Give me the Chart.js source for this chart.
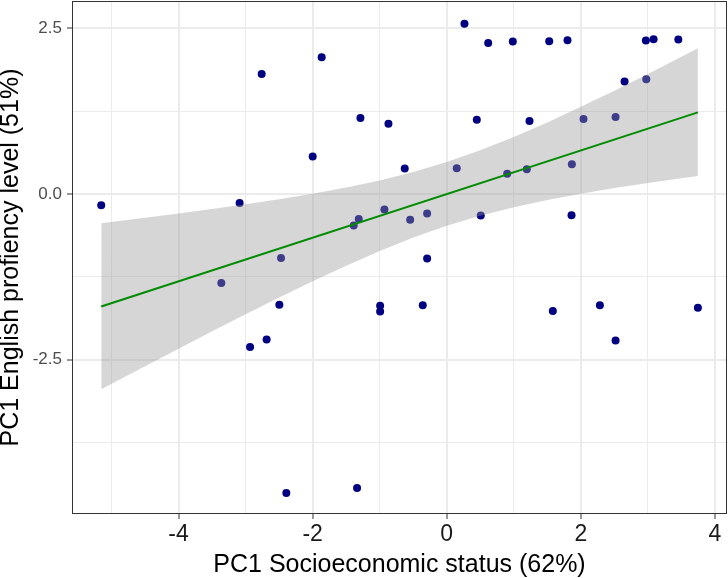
<!DOCTYPE html>
<html>
<head>
<meta charset="utf-8">
<script src="https://cdn.jsdelivr.net/npm/chart.js@4/dist/chart.umd.min.js"></script>
<style>
  html, body { margin: 0; padding: 0; background: #fff; }
  #chart { display: block; }
</style>
</head>
<body>
<canvas id="chart" width="728" height="578"></canvas>
<script>
// PC1 scores per sample
const sesScores = [-5.154, -3.09, -2.761, -1.866, -1.288, -0.870, -2.0, -0.930, -1.313, -1.388, -2.472,
  0.264, 0.618, 0.985, 1.528, 1.801, 2.970, 3.085, 3.454, 2.652, 2.976,
  0.448, 1.234, 2.040, 2.518, -0.627, 0.149, 0.901, 1.194, 1.866,
  -0.546, -0.293, 0.507, 1.861, -0.293, -3.363, -2.497, -2.687, -2.934,
  -0.994, -0.994, -2.393, -1.338, -0.358, 1.582, 2.284, 2.518, 3.746];
const engScores = [-0.172, -0.136, 1.809, 2.061, 1.143, 1.058, 0.564, -0.237, -0.378, -0.479, -0.968,
  2.565, 2.278, 2.298, 2.303, 2.318, 2.313, 2.333, 2.329, 1.694, 1.728,
  1.119, 1.098, 1.128, 1.158, 0.383, 0.387, 0.302, 0.372, 0.448,
  -0.389, -0.298, -0.328, -0.323, -0.974, -1.346, -1.674, -2.199, -2.309,
  -1.689, -1.775, -4.512, -4.437, -1.679, -1.769, -1.679, -2.214, -1.719];

// linear fit and its confidence band
const fitX = [-5.154, 3.746];
const fitY = [-1.70, 1.23];
const bandX = [-5.154, -4.5, -4, -3.5, -3, -2.5, -2, -1.5, -1, -0.5, 0, 0.5, 1, 1.5, 2, 2.5, 3, 3.5, 3.746];
const bandHigh = [-0.442, -0.362, -0.297, -0.230, -0.158, -0.083, 0.001, 0.095, 0.203, 0.330, 0.481,
  0.657, 0.858, 1.078, 1.313, 1.557, 1.810, 2.067, 2.198];
const bandLow = [-2.946, -2.600, -2.335, -2.074, -1.816, -1.563, -1.317, -1.083, -0.861, -0.660, -0.481,
  -0.329, -0.200, -0.092, 0.003, 0.087, 0.164, 0.235, 0.270];

const xTickLabels = [-4, -2, 0, 2, 4];
const yTickLabels = [-2.5, 0, 2.5];

const FONT = "'Liberation Sans', Arial, Helvetica, sans-serif";

function toPoints(xs, ys) {
  return xs.map((x, i) => ({x: x, y: ys[i]}));
}

function isMajor(v, list) {
  return list.some(t => Math.abs(t - v) < 1e-6);
}

const panelBorder = {
  id: 'panelBorder',
  afterDatasetsDraw(chart) {
    const ca = chart.chartArea;
    const ctx = chart.ctx;
    ctx.save();
    ctx.strokeStyle = '#333333';
    ctx.lineWidth = 1;
    ctx.strokeRect(ca.left + 0.5, ca.top + 0.5, ca.right - ca.left - 1, ca.bottom - ca.top - 1);
    ctx.restore();
  }
};

const config = {
  type: 'scatter',
  data: {
    datasets: [
      {
        type: 'line',
        data: toPoints(fitX, fitY),
        borderColor: '#008B00',
        borderWidth: 2,
        pointRadius: 0,
        fill: false,
        order: 0
      },
      {
        type: 'line',
        data: toPoints(bandX, bandLow),
        borderWidth: 0,
        borderColor: 'rgba(0,0,0,0)',
        pointRadius: 0,
        fill: false,
        order: 1
      },
      {
        type: 'line',
        data: toPoints(bandX, bandHigh),
        borderWidth: 0,
        borderColor: 'rgba(0,0,0,0)',
        backgroundColor: 'rgba(153,153,153,0.4)',
        pointRadius: 0,
        fill: '-1',
        order: 1
      },
      {
        data: toPoints(sesScores, engScores),
        backgroundColor: '#000080',
        borderWidth: 0,
        pointRadius: 4,
        order: 3
      }
    ]
  },
  options: {
    responsive: false,
    animation: false,
    layout: { autoPadding: false, padding: { top: 1, right: 1, left: 0, bottom: 0 } },
    plugins: {
      legend: { display: false },
      tooltip: { enabled: false }
    },
    scales: {
      x: {
        type: 'linear',
        min: -5.59,
        max: 4.18,
        afterFit(scale) {
          scale.height = 64;
          scale.paddingLeft = 0;
          scale.paddingRight = 0;
        },
        border: { display: false },
        grid: {
          color: '#EBEBEB',
          lineWidth: ctx => isMajor(ctx.tick.value, xTickLabels) ? 2 : 1,
          drawTicks: true,
          tickLength: 5,
          tickWidth: 1,
          tickColor: ctx => isMajor(ctx.tick.value, xTickLabels) ? '#333333' : 'rgba(0,0,0,0)'
        },
        ticks: {
          stepSize: 1,
          includeBounds: false,
          autoSkip: false,
          maxRotation: 0,
          padding: 2,
          color: '#1A1A1A',
          font: { family: FONT, size: 23 },
          callback: v => isMajor(v, xTickLabels) ? String(v) : ''
        },
        title: {
          display: true,
          text: 'PC1 Socioeconomic status (62%)',
          color: '#000000',
          font: { family: FONT, size: 25, lineHeight: 1 },
          padding: { top: 1, bottom: 0 }
        }
      },
      y: {
        type: 'linear',
        min: -4.83,
        max: 2.91,
        afterFit(scale) {
          scale.width = 72;
          scale.paddingTop = 0;
          scale.paddingBottom = 0;
        },
        border: { display: false },
        grid: {
          color: '#EBEBEB',
          lineWidth: ctx => isMajor(ctx.tick.value, yTickLabels) ? 2 : 1,
          drawTicks: true,
          tickLength: 5,
          tickWidth: 1,
          tickColor: ctx => isMajor(ctx.tick.value, yTickLabels) ? '#333333' : 'rgba(0,0,0,0)'
        },
        ticks: {
          stepSize: 1.25,
          includeBounds: false,
          autoSkip: false,
          padding: 5,
          color: '#4D4D4D',
          font: { family: FONT, size: 17 },
          callback: v => isMajor(v, yTickLabels) ? v.toFixed(1) : ''
        },
        title: {
          display: true,
          text: 'PC1 English profiency level (51%)',
          color: '#000000',
          font: { family: FONT, size: 25, lineHeight: 1 },
          padding: { top: -1, bottom: 0 }
        }
      }
    }
  },
  plugins: [panelBorder]
};

new Chart(document.getElementById('chart'), config);
</script>
</body>
</html>
